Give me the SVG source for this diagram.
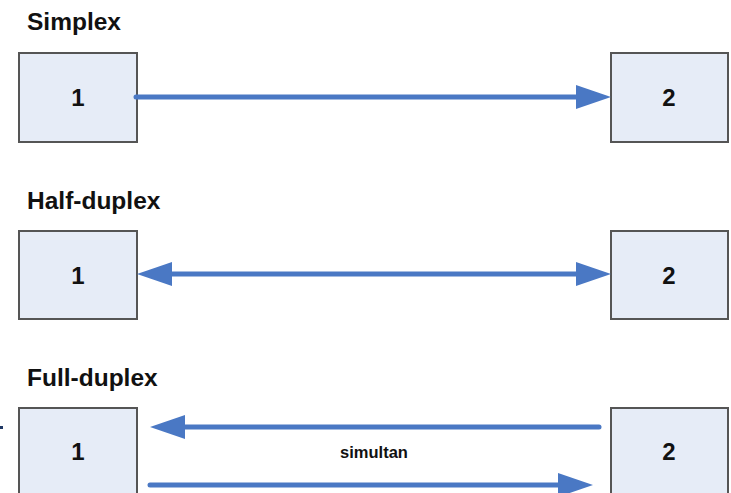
<svg xmlns="http://www.w3.org/2000/svg" width="731" height="493" viewBox="0 0 731 493">
<style>
.title{font-family:"Liberation Sans",Arial,sans-serif;font-weight:bold;font-size:24.5px;fill:#111}
.num{font-family:"Liberation Sans",Arial,sans-serif;font-weight:bold;font-size:24px;fill:#111;text-anchor:middle}
.lbl{font-family:"Liberation Sans",Arial,sans-serif;font-weight:bold;font-size:16.5px;fill:#111;text-anchor:middle}
.box{fill:#e6ecf7;stroke:#555;stroke-width:2}
.conn{stroke:#4a78c4;stroke-width:5;stroke-linecap:round;fill:none}
</style>
<defs>
<marker id="ah" markerUnits="userSpaceOnUse" markerWidth="40" markerHeight="30" refX="0" refY="12" orient="auto-start-reverse" viewBox="0 0 40 24">
<path d="M0,0 L35,12 L0,24 z" fill="#4a78c4"/>
</marker>
</defs>
<rect x="0" y="426" width="3" height="3" fill="#1f3864"/>
<text class="title" x="27" y="30">Simplex</text>
<text class="title" x="27" y="209">Half-duplex</text>
<text class="title" x="27" y="386">Full-duplex</text>
<g id="s1"><rect class="box" x="19" y="53" width="118" height="89"/><text class="num" x="78" y="106">1</text></g>
<g id="s2"><rect class="box" x="611" y="53" width="117" height="89"/><text class="num" x="669" y="106">2</text></g>
<g id="h1"><rect class="box" x="19" y="231" width="118" height="88"/><text class="num" x="78" y="284">1</text></g>
<g id="h2"><rect class="box" x="611" y="231" width="117" height="88"/><text class="num" x="669" y="284">2</text></g>
<g id="f1"><rect class="box" x="19" y="408" width="118" height="92"/><text class="num" x="78" y="460">1</text></g>
<g id="f2"><rect class="box" x="611" y="408" width="117" height="92"/><text class="num" x="669" y="460">2</text></g>
<g id="connectors">
<line class="conn" x1="136" y1="97" x2="576" y2="97" marker-end="url(#ah)"/>
<line class="conn" x1="172" y1="274" x2="576" y2="274" marker-start="url(#ah)" marker-end="url(#ah)"/>
<line class="conn" x1="599" y1="427" x2="185" y2="427" marker-end="url(#ah)"/>
<line class="conn" x1="150" y1="485" x2="558" y2="485" marker-end="url(#ah)"/>
<text class="lbl" x="374" y="458">simultan</text>
</g>
</svg>
